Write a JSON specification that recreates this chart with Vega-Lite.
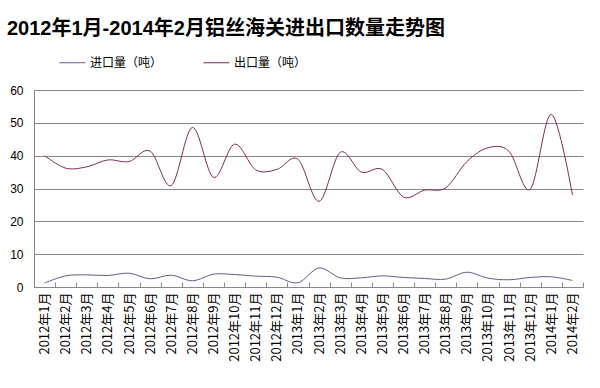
{
  "$schema": "https://vega.github.io/schema/vega-lite/v6.json",
  "autosize": {"type": "none"},
  "width": 549,
  "height": 197,
  "padding": {"left": 34, "top": 90, "right": 17, "bottom": 101},
  "background": "white",
  "title": {
    "text": "2012年1月-2014年2月铝丝海关进出口数量走势图",
    "anchor": "start",
    "frame": "group",
    "dx": -27,
    "offset": 10,
    "font": "Liberation Sans, Noto Sans CJK SC",
    "fontSize": 20,
    "fontWeight": "bold",
    "color": "#000000"
  },
  "data": {
    "values": [
      {"month": "2012年1月", "series": "进口量（吨）", "value": 1.2},
      {"month": "2012年2月", "series": "进口量（吨）", "value": 3.4},
      {"month": "2012年3月", "series": "进口量（吨）", "value": 3.7},
      {"month": "2012年4月", "series": "进口量（吨）", "value": 3.5},
      {"month": "2012年5月", "series": "进口量（吨）", "value": 4.2},
      {"month": "2012年6月", "series": "进口量（吨）", "value": 2.5},
      {"month": "2012年7月", "series": "进口量（吨）", "value": 3.6},
      {"month": "2012年8月", "series": "进口量（吨）", "value": 1.9},
      {"month": "2012年9月", "series": "进口量（吨）", "value": 3.9},
      {"month": "2012年10月", "series": "进口量（吨）", "value": 3.8},
      {"month": "2012年11月", "series": "进口量（吨）", "value": 3.3},
      {"month": "2012年12月", "series": "进口量（吨）", "value": 3.0},
      {"month": "2013年1月", "series": "进口量（吨）", "value": 1.3},
      {"month": "2013年2月", "series": "进口量（吨）", "value": 5.8},
      {"month": "2013年3月", "series": "进口量（吨）", "value": 2.8},
      {"month": "2013年4月", "series": "进口量（吨）", "value": 2.8},
      {"month": "2013年5月", "series": "进口量（吨）", "value": 3.4},
      {"month": "2013年6月", "series": "进口量（吨）", "value": 2.9},
      {"month": "2013年7月", "series": "进口量（吨）", "value": 2.6},
      {"month": "2013年8月", "series": "进口量（吨）", "value": 2.4},
      {"month": "2013年9月", "series": "进口量（吨）", "value": 4.5},
      {"month": "2013年10月", "series": "进口量（吨）", "value": 2.7},
      {"month": "2013年11月", "series": "进口量（吨）", "value": 2.2},
      {"month": "2013年12月", "series": "进口量（吨）", "value": 2.9},
      {"month": "2014年1月", "series": "进口量（吨）", "value": 3.1},
      {"month": "2014年2月", "series": "进口量（吨）", "value": 2.0},
      {"month": "2012年1月", "series": "出口量（吨）", "value": 40.0},
      {"month": "2012年2月", "series": "出口量（吨）", "value": 36.2},
      {"month": "2012年3月", "series": "出口量（吨）", "value": 36.6},
      {"month": "2012年4月", "series": "出口量（吨）", "value": 38.7},
      {"month": "2012年5月", "series": "出口量（吨）", "value": 38.2},
      {"month": "2012年6月", "series": "出口量（吨）", "value": 41.4},
      {"month": "2012年7月", "series": "出口量（吨）", "value": 30.9},
      {"month": "2012年8月", "series": "出口量（吨）", "value": 48.6},
      {"month": "2012年9月", "series": "出口量（吨）", "value": 33.4},
      {"month": "2012年10月", "series": "出口量（吨）", "value": 43.5},
      {"month": "2012年11月", "series": "出口量（吨）", "value": 35.7},
      {"month": "2012年12月", "series": "出口量（吨）", "value": 35.8},
      {"month": "2013年1月", "series": "出口量（吨）", "value": 38.9},
      {"month": "2013年2月", "series": "出口量（吨）", "value": 26.1},
      {"month": "2013年3月", "series": "出口量（吨）", "value": 41.0},
      {"month": "2013年4月", "series": "出口量（吨）", "value": 35.0},
      {"month": "2013年5月", "series": "出口量（吨）", "value": 35.8},
      {"month": "2013年6月", "series": "出口量（吨）", "value": 27.4},
      {"month": "2013年7月", "series": "出口量（吨）", "value": 29.5},
      {"month": "2013年8月", "series": "出口量（吨）", "value": 30.2},
      {"month": "2013年9月", "series": "出口量（吨）", "value": 38.2},
      {"month": "2013年10月", "series": "出口量（吨）", "value": 42.4},
      {"month": "2013年11月", "series": "出口量（吨）", "value": 41.3},
      {"month": "2013年12月", "series": "出口量（吨）", "value": 29.8},
      {"month": "2014年1月", "series": "出口量（吨）", "value": 52.6},
      {"month": "2014年2月", "series": "出口量（吨）", "value": 28.0}
    ]
  },
  "mark": {"type": "line", "interpolate": "cardinal", "tension": 0, "strokeWidth": 1},
  "encoding": {
    "x": {
      "field": "month",
      "type": "ordinal",
      "sort": null,
      "scale": {"type": "band", "paddingInner": 0, "paddingOuter": 0},
      "axis": {
        "title": null,
        "labelAngle": -90,
        "labelFont": "Noto Sans CJK SC",
        "labelFontSize": 13,
        "labelColor": "#000000",
        "labelPadding": 10,
        "tickBand": "extent",
        "tickSize": -5,
        "tickColor": "#888888",
        "domainColor": "#888888",
        "grid": false
      }
    },
    "y": {
      "field": "value",
      "type": "quantitative",
      "scale": {"domain": [0, 60], "nice": false},
      "axis": {
        "title": null,
        "values": [0, 10, 20, 30, 40, 50, 60],
        "ticks": false,
        "labelPadding": 11,
        "labelFont": "Liberation Sans",
        "labelFontSize": 12,
        "labelColor": "#000000",
        "grid": true,
        "gridColor": "#888888",
        "domainColor": "#888888"
      }
    },
    "color": {
      "field": "series",
      "type": "nominal",
      "scale": {"domain": ["进口量（吨）", "出口量（吨）"], "range": ["#5c5c94", "#7d2b56"]},
      "legend": {
        "title": null,
        "orient": "none",
        "legendX": 25,
        "legendY": -41,
        "direction": "horizontal",
        "symbolType": "stroke",
        "symbolSize": 676,
        "symbolStrokeWidth": 1,
        "labelFont": "Noto Sans CJK SC",
        "labelFontSize": 12,
        "labelColor": "#000000",
        "labelOffset": 4,
        "columnPadding": 38,
        "padding": 0
      }
    }
  },
  "config": {
    "view": {"stroke": null}
  }
}
